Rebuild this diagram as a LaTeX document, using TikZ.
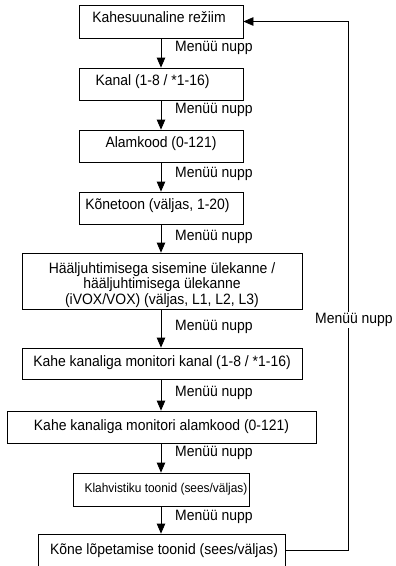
\documentclass[tikz,border=0pt]{standalone}
\usepackage{fontspec}
\setmainfont[FakeStretch=0.93]{Liberation Sans}
\usetikzlibrary{arrows.meta}
\begin{document}
\begin{tikzpicture}[x=1pt,y=-1pt,
  box/.style={draw, line width=0.8pt, inner sep=0pt, font=\fontsize{15}{15.7}\selectfont},
  smallbox/.style={box, font=\fontsize{12.8}{14}\selectfont},
  sh/.style={text height=12pt, text depth=#1},
  arr/.style={-{Triangle[length=10pt,width=8.5pt]}, line width=0.8pt},
  lbl/.style={font=\fontsize{15}{16}\selectfont, anchor=west, inner sep=0pt}]
\useasboundingbox (0,0) rectangle (396,566);
\coordinate (ax) at (161,0);
\coordinate (fx) at (348,0);
% boxes
\node[box, sh=9.3pt, minimum width=164, minimum height=33] (b1) at (161,21.5) {\hspace*{-4pt}Kahesuunaline režiim};
\node[box, sh=9.3pt, minimum width=164, minimum height=32] (b2) at (161,84) {\hspace*{-17pt}Kanal (1-8 / *1-16)};
\node[box, sh=9.3pt, minimum width=164, minimum height=32] (b3) at (161,146) {Alamkood (0-121)};
\node[box, sh=9.3pt, minimum width=164, minimum height=32] (b4) at (161,208) {\hspace*{-7pt}Kõnetoon (väljas, 1-20)};
\node[box, align=center, minimum width=280, minimum height=56] (b5) at (162,281) {\rule{0pt}{19pt}Hääljuhtimisega sisemine ülekanne /\\hääljuhtimisega ülekanne\\(iVOX/VOX) (väljas, L1, L2, L3)};
\node[box, sh=6.3pt, minimum width=280, minimum height=31] (b6) at (162,363.5) {Kahe kanaliga monitori kanal (1-8 / *1-16)};
\node[box, sh=5.3pt, minimum width=309, minimum height=32] (b7) at (161.5,427) {Kahe kanaliga monitori alamkood (0-121)};
\node[smallbox, sh=5.7pt, minimum width=176, minimum height=33] (b8) at (161,489.5) {\hspace*{10pt}Klahvistiku toonid (sees/väljas)};
\node[box, sh=4.3pt, minimum width=247, minimum height=33] (b9) at (161.5,550.5) {\hspace*{5pt}Kõne lõpetamise toonid (sees/väljas)};
% arrows
\draw[arr] (b1.south -| ax) -- (b2.north -| ax);
\draw[arr] (b2.south -| ax) -- (b3.north -| ax);
\draw[arr] (b3.south -| ax) -- (b4.north -| ax);
\draw[arr] (b4.south -| ax) -- (b5.north -| ax);
\draw[arr] (b5.south -| ax) -- (b6.north -| ax);
\draw[arr] (b6.south -| ax) -- (b7.north -| ax);
\draw[arr] (b7.south -| ax) -- (b8.north -| ax);
\draw[arr] (b8.south -| ax) -- (b9.north -| ax);
% labels
\node[lbl] (l1) at (175,48) {Menüü nupp};
\node[lbl] (l2) at (175,110) {Menüü nupp};
\node[lbl] (l3) at (175,174) {Menüü nupp};
\node[lbl] (l4) at (175,237) {Menüü nupp};
\node[lbl] (l5) at (175,327) {Menüü nupp};
\node[lbl] (l6) at (175,393) {Menüü nupp};
\node[lbl] (l7) at (175,453) {Menüü nupp};
\node[lbl] (l8) at (175,517) {Menüü nupp};
% feedback
\draw[arr] (b9.east) -- (b9.east -| fx) -- (b1.east -| fx) -- (b1.east);
\node[lbl, fill=white, inner sep=1pt] (lr) at (314,320) {Menüü nupp};
\end{tikzpicture}
\end{document}
